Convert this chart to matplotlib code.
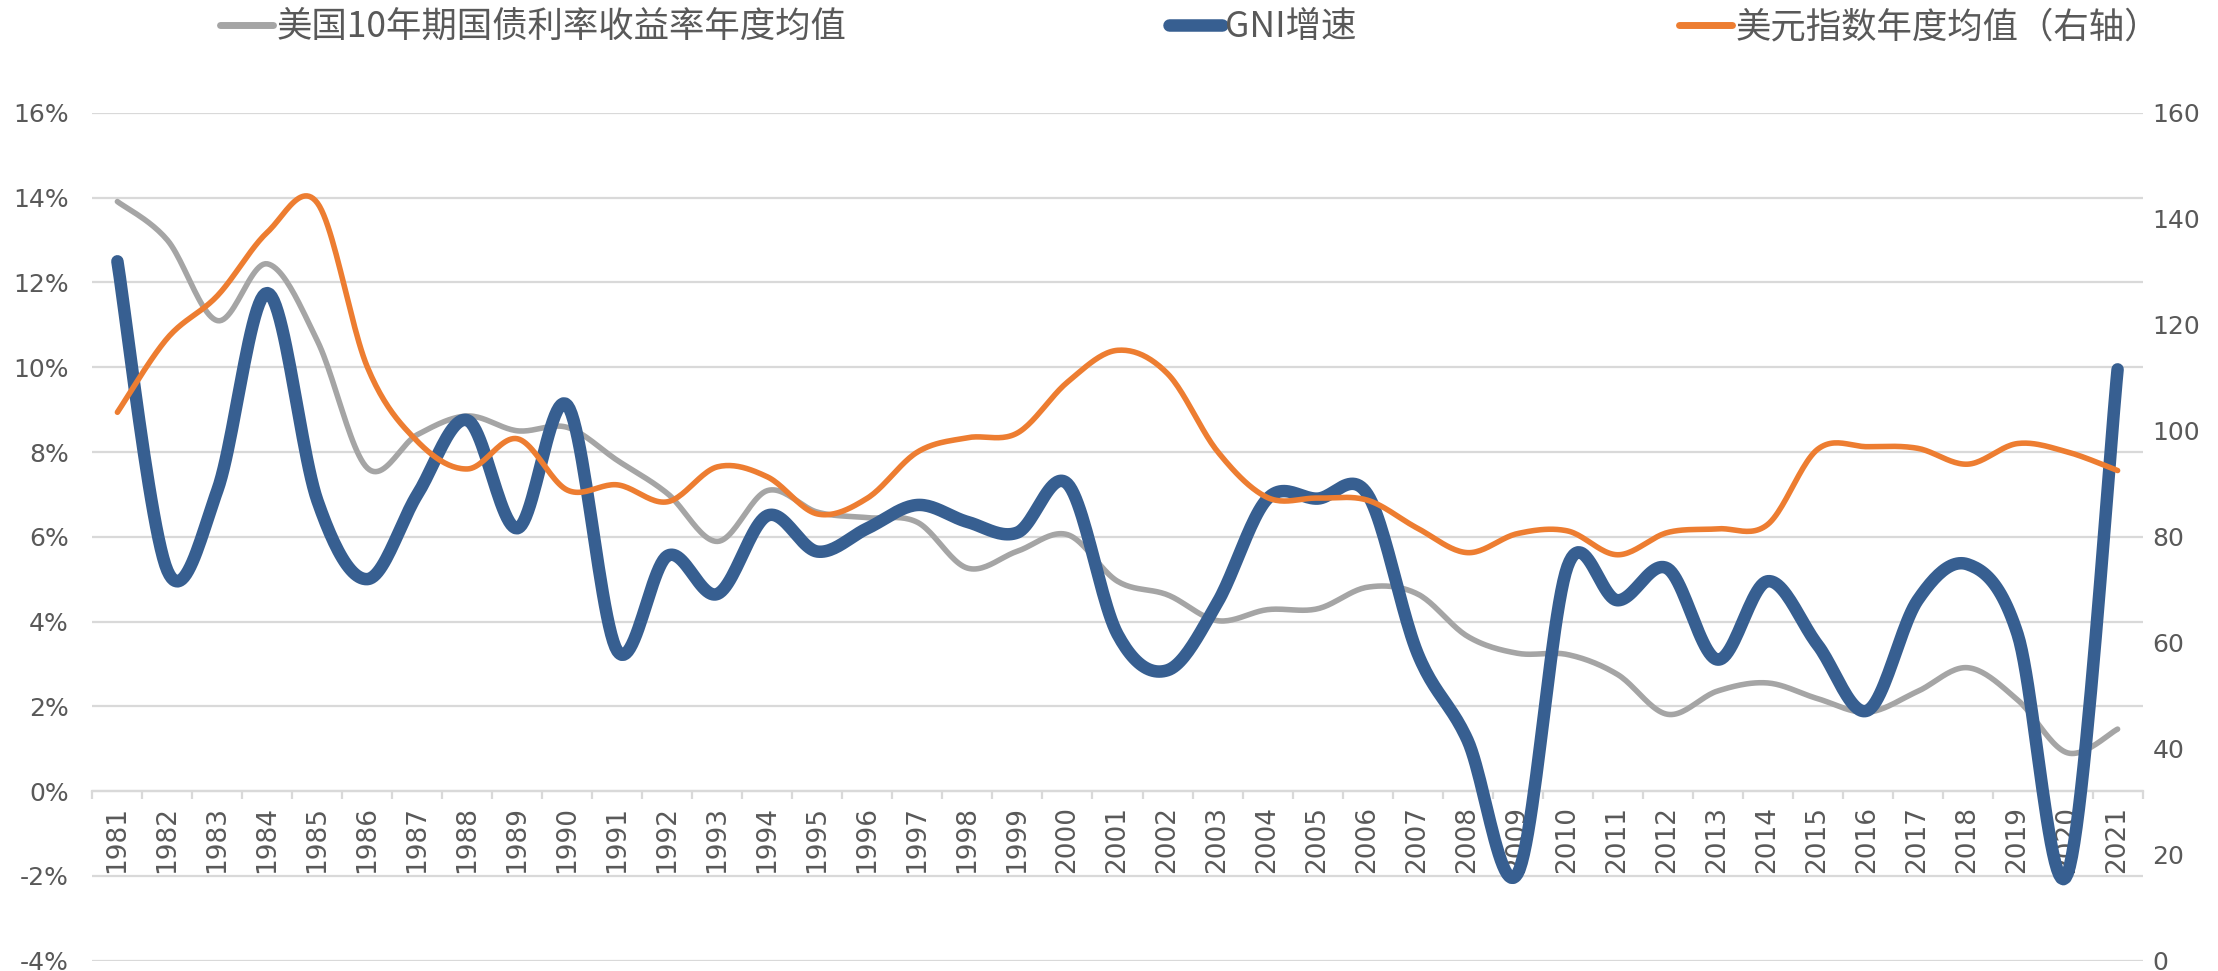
import numpy as np
import matplotlib
matplotlib.use('Agg')
import matplotlib.pyplot as plt
from matplotlib.lines import Line2D

plt.rcParams['font.family'] = ['Noto Sans CJK SC', 'DejaVu Sans']

years = list(range(1981, 2022))
treasury_10y = [13.91, 13.0, 11.1, 12.44, 10.62, 7.62, 8.41, 8.85, 8.5, 8.58,
                7.8, 7.02, 5.89, 7.09, 6.58, 6.45, 6.34, 5.26, 5.66, 6.05,
                4.95, 4.63, 4.02, 4.28, 4.3, 4.81, 4.65, 3.65, 3.25, 3.22,
                2.75, 1.81, 2.36, 2.55, 2.18, 1.86, 2.35, 2.91, 2.15, 0.9, 1.46]
gni_growth = [12.5, 5.2, 7.1, 11.75, 6.85, 5.0, 7.0, 8.75, 6.2, 9.1,
              3.3, 5.55, 4.65, 6.5, 5.65, 6.2, 6.75, 6.35, 6.1, 7.25,
              3.7, 2.85, 4.45, 6.9, 6.9, 7.0, 3.25, 1.2, -1.95, 5.3,
              4.5, 5.25, 3.1, 4.95, 3.45, 1.9, 4.5, 5.35, 3.7, -1.95, 9.95]
dollar_index = [103.5, 117.5, 125.5, 137.5, 143.0, 112.0, 98.0, 92.8, 98.5, 88.8,
                89.8, 86.6, 93.2, 91.3, 84.3, 87.3, 96.0, 98.7, 99.6, 109.2,
                115.2, 110.8, 96.1, 87.4, 87.3, 86.9, 81.6, 77.0, 80.6, 81.1,
                76.6, 80.8, 81.5, 82.3, 96.5, 97.0, 96.7, 93.7, 97.6, 96.0, 92.5]

labels = ['美国10年期国债利率收益率年度均值', 'GNI增速', '美元指数年度均值（右轴）']
colors = ['#A5A5A5', '#375F91', '#ED7D31']


def smooth(x, y, n=24):
    P = np.column_stack([np.asarray(x, float), np.asarray(y, float)])
    ext = np.vstack([P[0], P, P[-1]])
    t = np.linspace(0, 1, n, endpoint=False)[:, None]
    out = []
    for i in range(len(P) - 1):
        p0, p1, p2, p3 = ext[i], ext[i + 1], ext[i + 2], ext[i + 3]
        c1 = p1 + (p2 - p0) / 6
        c2 = p2 - (p3 - p1) / 6
        out.append((1 - t) ** 3 * p1 + 3 * (1 - t) ** 2 * t * c1
                   + 3 * (1 - t) * t ** 2 * c2 + t ** 3 * p2)
    out.append(P[-1:])
    r = np.vstack(out)
    return r[:, 0], r[:, 1]


W, H = 2218, 971
fig = plt.figure(figsize=(W / 100, H / 100), dpi=100)
fig.patch.set_facecolor('white')
left, right, top, bottom = 92.4, 2142.6, 113.0, 960.5
ax = fig.add_axes([left / W, 1 - bottom / H, (right - left) / W, (bottom - top) / H])
ax2 = ax.twinx()

xs = np.arange(len(years))
ax.set_xlim(-0.5, len(years) - 0.5)
ax.set_ylim(-4, 16)
ax2.set_ylim(0, 160)

grid_c = '#D9D9D9'
text_c = '#595959'

ax.set_yticks(np.arange(-4, 17, 2))
ax.set_yticklabels([f'{v}%' for v in range(-4, 17, 2)], family='DejaVu Sans',
                   fontsize=18, color=text_c)
ax.yaxis.grid(True, color=grid_c, lw=1.6)
ax.set_axisbelow(True)
for s in ['top', 'left', 'right']:
    ax.spines[s].set_visible(False)
ax.spines['bottom'].set_position(('data', 0))
ax.spines['bottom'].set_color(grid_c)
ax.spines['bottom'].set_linewidth(1.6)
for s in ['top', 'left', 'right', 'bottom']:
    ax2.spines[s].set_visible(False)

ax.set_xticks(xs)
ax.set_xticklabels([str(y) for y in years], rotation=90, va='top', ha='center',
                   fontsize=19, color=text_c, family='DejaVu Sans')
ax.set_xticks(np.arange(-0.5, len(years), 1), minor=True)
ax.tick_params(axis='x', which='major', length=0, pad=11)
ax.tick_params(axis='x', which='minor', length=6, width=1.6, color=grid_c, direction='out')
ax.tick_params(axis='y', length=0, pad=17)

ax2.set_yticks(np.arange(0, 161, 20))
ax2.set_yticklabels([str(v) for v in range(0, 161, 20)], family='DejaVu Sans',
                    fontsize=18, color=text_c)
ax2.tick_params(axis='y', length=0, pad=7)

sx, sy = smooth(xs, treasury_10y)
ax.plot(sx, sy, color=colors[0], lw=4, solid_capstyle='round', zorder=3)
sx, sy = smooth(xs, gni_growth)
ax.plot(sx, sy, color=colors[1], lw=9, solid_capstyle='round', zorder=4)
sx, sy = smooth(xs, dollar_index)
ax2.plot(sx, sy, color=colors[2], lw=4, solid_capstyle='round', zorder=5)

handles = [Line2D([], [], color=colors[0], lw=5, solid_capstyle='round'),
           Line2D([], [], color=colors[1], lw=9, solid_capstyle='round'),
           Line2D([], [], color=colors[2], lw=5, solid_capstyle='round')]
leg = fig.legend(handles, labels, ncol=3, loc='center', bbox_to_anchor=(0.5365, 0.972),
                 frameon=False, fontsize=25.5, handlelength=1.5, handletextpad=0.1,
                 columnspacing=9.1)
for t in leg.get_texts():
    t.set_color(text_c)

fig.savefig('out.png', dpi=100, facecolor='white')
